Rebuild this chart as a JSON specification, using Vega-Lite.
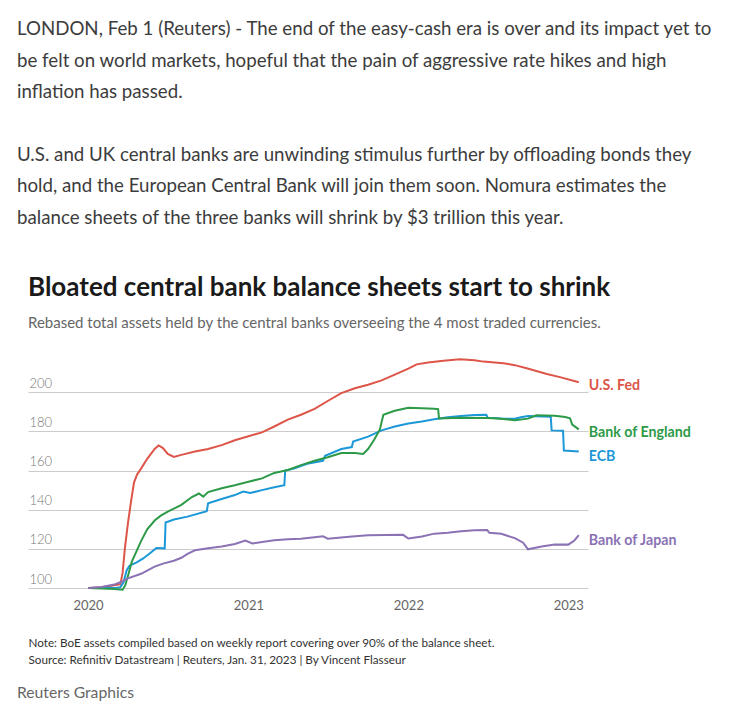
{
  "$schema": "https://vega.github.io/schema/vega-lite/v6.json",
  "padding": {"left": 17, "top": 20, "right": 0, "bottom": 0},
  "background": "white",
  "spacing": 18,
  "title": {
    "text": ["LONDON, Feb 1 (Reuters) - The end of the easy-cash era is over and its impact yet to", "be felt on world markets, hopeful that the pain of aggressive rate hikes and high", "inflation has passed."],
    "subtitle": ["U.S. and UK central banks are unwinding stimulus further by offloading bonds they", "hold, and the European Central Bank will join them soon. Nomura estimates the", "balance sheets of the three banks will shrink by $3 trillion this year."],
    "anchor": "start", "font": "Lato", "fontSize": 18.7, "fontWeight": "normal",
    "color": "#3c3c3c", "lineHeight": 31.5,
    "subtitleFont": "Lato", "subtitleFontSize": 18.7, "subtitleFontWeight": "normal",
    "subtitleColor": "#3c3c3c", "subtitleLineHeight": 31.5, "subtitlePadding": 44,
    "offset": 47.5
  },
  "datasets": {
    "series": [
      {"bank":"U.S. Fed","date":"2020-01-01","value":100},
      {"bank":"U.S. Fed","date":"2020-02-01","value":100.5},
      {"bank":"U.S. Fed","date":"2020-03-01","value":101.5},
      {"bank":"U.S. Fed","date":"2020-03-15","value":102},
      {"bank":"U.S. Fed","date":"2020-03-20","value":108},
      {"bank":"U.S. Fed","date":"2020-03-25","value":120},
      {"bank":"U.S. Fed","date":"2020-04-01","value":133},
      {"bank":"U.S. Fed","date":"2020-04-08","value":144},
      {"bank":"U.S. Fed","date":"2020-04-15","value":154},
      {"bank":"U.S. Fed","date":"2020-04-22","value":158},
      {"bank":"U.S. Fed","date":"2020-05-01","value":161},
      {"bank":"U.S. Fed","date":"2020-05-15","value":166},
      {"bank":"U.S. Fed","date":"2020-06-01","value":171},
      {"bank":"U.S. Fed","date":"2020-06-10","value":172.8},
      {"bank":"U.S. Fed","date":"2020-06-20","value":171.5},
      {"bank":"U.S. Fed","date":"2020-07-01","value":168.5},
      {"bank":"U.S. Fed","date":"2020-07-15","value":167},
      {"bank":"U.S. Fed","date":"2020-08-01","value":168},
      {"bank":"U.S. Fed","date":"2020-09-01","value":169.7},
      {"bank":"U.S. Fed","date":"2020-10-01","value":171},
      {"bank":"U.S. Fed","date":"2020-11-01","value":173},
      {"bank":"U.S. Fed","date":"2020-12-01","value":175.5},
      {"bank":"U.S. Fed","date":"2021-01-01","value":177.5},
      {"bank":"U.S. Fed","date":"2021-02-01","value":179.5},
      {"bank":"U.S. Fed","date":"2021-03-01","value":182.5},
      {"bank":"U.S. Fed","date":"2021-04-01","value":186},
      {"bank":"U.S. Fed","date":"2021-05-01","value":188.5},
      {"bank":"U.S. Fed","date":"2021-06-01","value":191.5},
      {"bank":"U.S. Fed","date":"2021-07-01","value":195.5},
      {"bank":"U.S. Fed","date":"2021-08-01","value":199.5},
      {"bank":"U.S. Fed","date":"2021-09-01","value":202},
      {"bank":"U.S. Fed","date":"2021-10-01","value":203.8},
      {"bank":"U.S. Fed","date":"2021-11-01","value":206},
      {"bank":"U.S. Fed","date":"2021-12-01","value":209},
      {"bank":"U.S. Fed","date":"2022-01-01","value":212},
      {"bank":"U.S. Fed","date":"2022-01-20","value":214.2},
      {"bank":"U.S. Fed","date":"2022-02-15","value":215.2},
      {"bank":"U.S. Fed","date":"2022-03-22","value":216.1},
      {"bank":"U.S. Fed","date":"2022-04-29","value":216.8},
      {"bank":"U.S. Fed","date":"2022-06-01","value":216.3},
      {"bank":"U.S. Fed","date":"2022-06-21","value":215.6},
      {"bank":"U.S. Fed","date":"2022-08-06","value":214.8},
      {"bank":"U.S. Fed","date":"2022-09-01","value":213.8},
      {"bank":"U.S. Fed","date":"2022-09-28","value":212.2},
      {"bank":"U.S. Fed","date":"2022-11-13","value":209.3},
      {"bank":"U.S. Fed","date":"2022-12-13","value":207.7},
      {"bank":"U.S. Fed","date":"2023-01-25","value":205.1},

      {"bank":"ECB","date":"2020-01-01","value":100},
      {"bank":"ECB","date":"2020-02-01","value":100.2},
      {"bank":"ECB","date":"2020-03-01","value":100},
      {"bank":"ECB","date":"2020-03-15","value":100.5},
      {"bank":"ECB","date":"2020-03-22","value":103},
      {"bank":"ECB","date":"2020-03-29","value":109},
      {"bank":"ECB","date":"2020-04-05","value":111.5},
      {"bank":"ECB","date":"2020-04-20","value":113},
      {"bank":"ECB","date":"2020-05-05","value":115},
      {"bank":"ECB","date":"2020-05-20","value":117.5},
      {"bank":"ECB","date":"2020-06-05","value":120.5},
      {"bank":"ECB","date":"2020-06-24","value":120.3},
      {"bank":"ECB","date":"2020-06-26","value":133.5},
      {"bank":"ECB","date":"2020-07-15","value":135},
      {"bank":"ECB","date":"2020-08-15","value":136.5},
      {"bank":"ECB","date":"2020-09-28","value":139.2},
      {"bank":"ECB","date":"2020-10-01","value":143.3},
      {"bank":"ECB","date":"2020-11-01","value":145.5},
      {"bank":"ECB","date":"2020-12-01","value":147.5},
      {"bank":"ECB","date":"2020-12-20","value":149.3},
      {"bank":"ECB","date":"2021-01-05","value":148.5},
      {"bank":"ECB","date":"2021-02-01","value":150},
      {"bank":"ECB","date":"2021-03-01","value":151.5},
      {"bank":"ECB","date":"2021-03-24","value":152.5},
      {"bank":"ECB","date":"2021-03-26","value":160},
      {"bank":"ECB","date":"2021-04-15","value":161},
      {"bank":"ECB","date":"2021-05-15","value":163.5},
      {"bank":"ECB","date":"2021-06-20","value":165},
      {"bank":"ECB","date":"2021-06-25","value":167.5},
      {"bank":"ECB","date":"2021-08-01","value":171},
      {"bank":"ECB","date":"2021-08-25","value":172},
      {"bank":"ECB","date":"2021-08-28","value":174.8},
      {"bank":"ECB","date":"2021-10-01","value":177.3},
      {"bank":"ECB","date":"2021-11-01","value":180.5},
      {"bank":"ECB","date":"2021-12-01","value":182.5},
      {"bank":"ECB","date":"2022-01-01","value":184},
      {"bank":"ECB","date":"2022-02-01","value":185},
      {"bank":"ECB","date":"2022-03-01","value":186.2},
      {"bank":"ECB","date":"2022-04-01","value":187.2},
      {"bank":"ECB","date":"2022-05-01","value":187.8},
      {"bank":"ECB","date":"2022-06-01","value":188.3},
      {"bank":"ECB","date":"2022-06-28","value":188.5},
      {"bank":"ECB","date":"2022-07-01","value":187},
      {"bank":"ECB","date":"2022-08-01","value":186.6},
      {"bank":"ECB","date":"2022-09-01","value":186.4},
      {"bank":"ECB","date":"2022-09-15","value":187.2},
      {"bank":"ECB","date":"2022-10-01","value":187.9},
      {"bank":"ECB","date":"2022-11-22","value":187.5},
      {"bank":"ECB","date":"2022-11-24","value":180.5},
      {"bank":"ECB","date":"2022-12-20","value":180.3},
      {"bank":"ECB","date":"2022-12-22","value":170.2},
      {"bank":"ECB","date":"2023-01-25","value":169.7},

      {"bank":"Bank of England","date":"2020-01-01","value":100},
      {"bank":"Bank of England","date":"2020-02-01","value":99.8},
      {"bank":"Bank of England","date":"2020-03-01","value":99.5},
      {"bank":"Bank of England","date":"2020-03-20","value":99.2},
      {"bank":"Bank of England","date":"2020-03-26","value":101.5},
      {"bank":"Bank of England","date":"2020-04-02","value":107},
      {"bank":"Bank of England","date":"2020-04-10","value":113.5},
      {"bank":"Bank of England","date":"2020-04-20","value":118.5},
      {"bank":"Bank of England","date":"2020-05-01","value":124},
      {"bank":"Bank of England","date":"2020-05-15","value":130},
      {"bank":"Bank of England","date":"2020-06-01","value":134.5},
      {"bank":"Bank of England","date":"2020-06-15","value":137},
      {"bank":"Bank of England","date":"2020-07-01","value":139},
      {"bank":"Bank of England","date":"2020-08-01","value":142.5},
      {"bank":"Bank of England","date":"2020-08-25","value":146.5},
      {"bank":"Bank of England","date":"2020-09-10","value":148.3},
      {"bank":"Bank of England","date":"2020-09-20","value":146.7},
      {"bank":"Bank of England","date":"2020-10-01","value":149},
      {"bank":"Bank of England","date":"2020-11-01","value":151},
      {"bank":"Bank of England","date":"2020-12-01","value":152.5},
      {"bank":"Bank of England","date":"2021-01-01","value":154.3},
      {"bank":"Bank of England","date":"2021-02-01","value":156},
      {"bank":"Bank of England","date":"2021-03-01","value":158.8},
      {"bank":"Bank of England","date":"2021-04-01","value":160.3},
      {"bank":"Bank of England","date":"2021-05-01","value":162.8},
      {"bank":"Bank of England","date":"2021-06-01","value":165},
      {"bank":"Bank of England","date":"2021-07-01","value":166.8},
      {"bank":"Bank of England","date":"2021-08-01","value":169},
      {"bank":"Bank of England","date":"2021-09-01","value":169},
      {"bank":"Bank of England","date":"2021-09-20","value":168.5},
      {"bank":"Bank of England","date":"2021-10-01","value":171},
      {"bank":"Bank of England","date":"2021-10-15","value":175.7},
      {"bank":"Bank of England","date":"2021-10-28","value":181},
      {"bank":"Bank of England","date":"2021-11-05","value":188.5},
      {"bank":"Bank of England","date":"2021-12-01","value":190.5},
      {"bank":"Bank of England","date":"2022-01-01","value":192},
      {"bank":"Bank of England","date":"2022-02-01","value":191.8},
      {"bank":"Bank of England","date":"2022-03-01","value":191.5},
      {"bank":"Bank of England","date":"2022-03-10","value":191.3},
      {"bank":"Bank of England","date":"2022-03-12","value":186.6},
      {"bank":"Bank of England","date":"2022-05-01","value":187},
      {"bank":"Bank of England","date":"2022-07-01","value":186.8},
      {"bank":"Bank of England","date":"2022-08-01","value":186.5},
      {"bank":"Bank of England","date":"2022-09-01","value":185.7},
      {"bank":"Bank of England","date":"2022-10-01","value":186.5},
      {"bank":"Bank of England","date":"2022-10-20","value":188.2},
      {"bank":"Bank of England","date":"2022-12-01","value":188},
      {"bank":"Bank of England","date":"2022-12-25","value":187.3},
      {"bank":"Bank of England","date":"2023-01-05","value":186.7},
      {"bank":"Bank of England","date":"2023-01-10","value":183.5},
      {"bank":"Bank of England","date":"2023-01-25","value":181},

      {"bank":"Bank of Japan","date":"2020-01-01","value":100},
      {"bank":"Bank of Japan","date":"2020-02-01","value":100.6},
      {"bank":"Bank of Japan","date":"2020-03-01","value":101.8},
      {"bank":"Bank of Japan","date":"2020-03-20","value":103.5},
      {"bank":"Bank of Japan","date":"2020-04-01","value":105},
      {"bank":"Bank of Japan","date":"2020-05-01","value":107.3},
      {"bank":"Bank of Japan","date":"2020-06-01","value":111},
      {"bank":"Bank of Japan","date":"2020-06-20","value":112.5},
      {"bank":"Bank of Japan","date":"2020-07-15","value":114},
      {"bank":"Bank of Japan","date":"2020-08-01","value":115.5},
      {"bank":"Bank of Japan","date":"2020-08-15","value":117.5},
      {"bank":"Bank of Japan","date":"2020-09-01","value":119.3},
      {"bank":"Bank of Japan","date":"2020-10-01","value":120.3},
      {"bank":"Bank of Japan","date":"2020-11-01","value":121.2},
      {"bank":"Bank of Japan","date":"2020-12-01","value":122.5},
      {"bank":"Bank of Japan","date":"2020-12-25","value":124.3},
      {"bank":"Bank of Japan","date":"2021-01-10","value":122.8},
      {"bank":"Bank of Japan","date":"2021-02-01","value":123.5},
      {"bank":"Bank of Japan","date":"2021-03-01","value":124.4},
      {"bank":"Bank of Japan","date":"2021-04-01","value":125},
      {"bank":"Bank of Japan","date":"2021-05-01","value":125.2},
      {"bank":"Bank of Japan","date":"2021-06-01","value":126},
      {"bank":"Bank of Japan","date":"2021-06-20","value":126.5},
      {"bank":"Bank of Japan","date":"2021-07-01","value":125.2},
      {"bank":"Bank of Japan","date":"2021-08-01","value":125.8},
      {"bank":"Bank of Japan","date":"2021-09-01","value":126.5},
      {"bank":"Bank of Japan","date":"2021-10-01","value":127},
      {"bank":"Bank of Japan","date":"2021-12-20","value":127.2},
      {"bank":"Bank of Japan","date":"2022-01-01","value":125.3},
      {"bank":"Bank of Japan","date":"2022-02-01","value":126.3},
      {"bank":"Bank of Japan","date":"2022-03-01","value":127.8},
      {"bank":"Bank of Japan","date":"2022-04-01","value":128.3},
      {"bank":"Bank of Japan","date":"2022-05-01","value":129},
      {"bank":"Bank of Japan","date":"2022-06-01","value":129.5},
      {"bank":"Bank of Japan","date":"2022-06-30","value":129.6},
      {"bank":"Bank of Japan","date":"2022-07-05","value":128.2},
      {"bank":"Bank of Japan","date":"2022-08-01","value":127.7},
      {"bank":"Bank of Japan","date":"2022-09-01","value":125.5},
      {"bank":"Bank of Japan","date":"2022-09-20","value":123.2},
      {"bank":"Bank of Japan","date":"2022-10-01","value":119.8},
      {"bank":"Bank of Japan","date":"2022-11-01","value":121.2},
      {"bank":"Bank of Japan","date":"2022-12-01","value":122.3},
      {"bank":"Bank of Japan","date":"2023-01-01","value":122.2},
      {"bank":"Bank of Japan","date":"2023-01-15","value":124.3},
      {"bank":"Bank of Japan","date":"2023-01-25","value":127}
    ],
    "labels": [
      {"bank":"U.S. Fed","date":"2023-01-25","value":203.2},
      {"bank":"Bank of England","date":"2023-01-25","value":179.1},
      {"bank":"ECB","date":"2023-01-25","value":167.1},
      {"bank":"Bank of Japan","date":"2023-01-25","value":124.3}
    ]
  },
  "vconcat": [
    {
      "width": 560,
      "height": 241,
      "title": {
        "text": "Bloated central bank balance sheets start to shrink",
        "subtitle": "Rebased total assets held by the central banks overseeing the 4 most traded currencies.",
        "anchor": "start", "font": "Lato", "fontSize": 26, "fontWeight": "bold", "color": "#1a1a1a",
        "subtitleFont": "Lato", "subtitleFontSize": 15, "subtitleColor": "#666666", "subtitlePadding": 15,
        "offset": 22
      },
      "encoding": {
        "x": {
          "field": "date", "type": "temporal",
          "scale": {"type": "utc", "domain": [{"year": 2019, "month": 8, "date": 17, "utc": true}, {"year": 2023, "month": 2, "date": 15, "utc": true}]},
          "axis": {
            "values": [{"year": 2020, "month": 1, "date": 1, "utc": true}, {"year": 2021, "month": 1, "date": 1, "utc": true}, {"year": 2022, "month": 1, "date": 1, "utc": true}, {"year": 2023, "month": 1, "date": 1, "utc": true}],
            "format": "%Y", "domain": false, "ticks": false, "grid": false,
            "labelFont": "Lato", "labelFontSize": 13, "labelColor": "#666666", "labelPadding": 5,
            "title": ["Note: BoE assets compiled based on weekly report covering over 90% of the balance sheet.", "Source: Refinitiv Datastream | Reuters, Jan. 31, 2023 | By Vincent Flasseur"],
            "titleAnchor": "start", "titleAlign": "left", "titleFont": "Lato", "titleFontSize": 11.7,
            "titleFontWeight": "normal", "titleColor": "#333333", "titleLineHeight": 17, "titlePadding": 25
          }
        },
        "y": {
          "field": "value", "type": "quantitative",
          "scale": {"domain": [97, 220], "nice": false, "zero": false},
          "axis": {
            "values": [100, 120, 140, 160, 180, 200], "domain": false, "ticks": false, "tickSize": 0,
            "minExtent": 0,
            "grid": true, "gridColor": "#cccccc", "gridWidth": 1,
            "labelAlign": "left", "labelBaseline": "alphabetic", "labelPadding": -1, "labelOffset": -5,
            "labelFont": "Lato", "labelFontSize": 13, "labelColor": "#777777", "labelFontWeight": 300,
            "title": null
          }
        },
        "color": {
          "field": "bank", "type": "nominal",
          "scale": {"domain": ["U.S. Fed", "Bank of England", "ECB", "Bank of Japan"], "range": ["#dd5549", "#2d9a48", "#1c98d8", "#8a72b4"]},
          "legend": null
        }
      },
      "layer": [
        {
          "data": {"name": "series"},
          "mark": {"type": "line", "strokeWidth": 2, "interpolate": "linear"}
        },
        {
          "data": {"name": "labels"},
          "mark": {"type": "text", "align": "left", "baseline": "middle", "dx": 10, "font": "Lato", "fontSize": 14.2, "fontWeight": "bold"},
          "encoding": {"text": {"field": "bank"}}
        }
      ]
    },
    {
      "width": 560,
      "height": 1,
      "title": {"text": "Reuters Graphics", "anchor": "start", "dx": -11, "font": "Lato", "fontSize": 15.7, "fontWeight": "normal", "color": "#666666", "offset": 0},
      "data": {"values": [{"t": ""}]},
      "mark": {"type": "text"},
      "encoding": {"text": {"field": "t"}}
    }
  ],
  "config": {
    "view": {"stroke": null},
    "font": "Lato"
  }
}
